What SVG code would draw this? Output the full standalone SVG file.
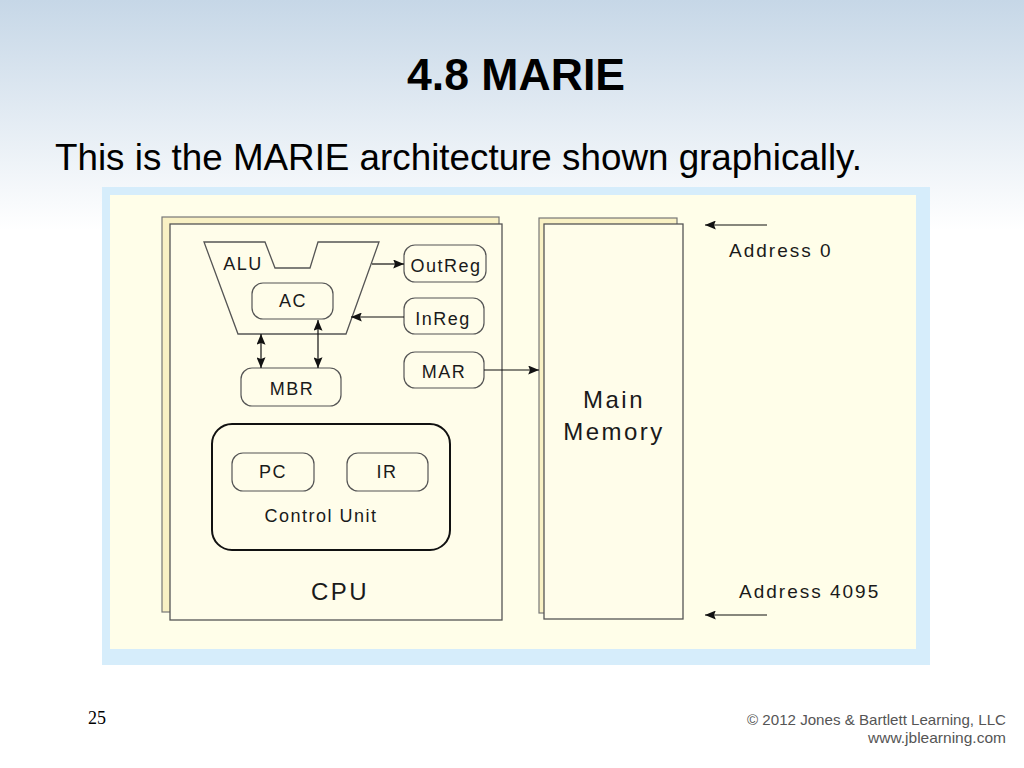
<svg xmlns="http://www.w3.org/2000/svg" width="1024" height="768" viewBox="0 0 1024 768">
<defs>
<linearGradient id="bg" x1="0" y1="0" x2="0" y2="1">
<stop offset="0" stop-color="#c6d7e7"/>
<stop offset="0.3" stop-color="#ffffff"/>
<stop offset="1" stop-color="#ffffff"/>
</linearGradient>
<marker id="ah" viewBox="0 0 12 10" refX="12" refY="5" markerWidth="12" markerHeight="9" markerUnits="userSpaceOnUse" orient="auto-start-reverse">
<path d="M0,0 L12,5 L0,10 L2,5 Z" fill="#111"/>
</marker>
<style>
.lbl{font-family:"Liberation Sans",Arial,sans-serif;font-size:18px;letter-spacing:1.5px;fill:#1a1a1a;text-anchor:middle}
.big{font-family:"Liberation Sans",Arial,sans-serif;font-size:24px;letter-spacing:2.5px;fill:#1a1a1a;text-anchor:middle}
.addr{font-family:"Liberation Sans",Arial,sans-serif;font-size:19px;letter-spacing:2px;fill:#1a1a1a}
.reg{fill:#fffdea;stroke:#555;stroke-width:1.2}
.page{fill:#fffdea;stroke:#555;stroke-width:1.3}
.back{fill:#f9f1c4;stroke:#777;stroke-width:1.2}
.wire{stroke:#111;stroke-width:1.2;fill:none}
.copy{font-family:"Liberation Sans",Arial,sans-serif;font-size:15px;fill:#555;text-anchor:end}
</style>
</defs>
<rect x="0" y="0" width="1024" height="768" fill="url(#bg)"/>
<text x="516" y="90" font-family="Liberation Sans,Arial,sans-serif" font-size="44" font-weight="bold" text-anchor="middle" fill="#000" textLength="218" lengthAdjust="spacingAndGlyphs">4.8 MARIE</text>
<text x="55" y="170" font-family="Liberation Sans,Arial,sans-serif" font-size="36" fill="#000" textLength="807" lengthAdjust="spacingAndGlyphs">This is the MARIE architecture shown graphically.</text>
<rect x="102" y="187" width="828" height="478" fill="#d6edfb"/>
<rect x="110" y="195" width="806" height="454" fill="#fffee9"/>

<g id="cpu">
<rect class="back" x="162" y="217" width="337" height="395"/>
<rect class="page" x="170" y="224" width="332" height="396"/>
<text class="big" x="340" y="600">CPU</text>
</g>
<g id="alu">
<path class="page" d="M204,242 L265,242 L275,268 L310,268 L318,242 L379,242 L346,334 L238,334 Z"/>
<text class="lbl" x="243" y="270">ALU</text>
</g>
<g id="ac">
<rect class="reg" x="252" y="283" width="81" height="36" rx="11"/>
<text class="lbl" x="293" y="307">AC</text>
</g>
<g id="mbr">
<rect class="reg" x="241" y="368" width="100" height="38" rx="11"/>
<text class="lbl" x="292" y="395">MBR</text>
</g>
<g id="outreg">
<rect class="reg" x="404" y="245" width="82" height="37" rx="11"/>
<text class="lbl" x="446" y="272">OutReg</text>
</g>
<g id="inreg">
<rect class="reg" x="404" y="298" width="80" height="36" rx="11"/>
<text class="lbl" x="443" y="325">InReg</text>
</g>
<g id="mar">
<rect class="reg" x="404" y="352" width="80" height="36" rx="11"/>
<text class="lbl" x="444" y="378">MAR</text>
</g>
<g id="control-unit">
<rect x="212" y="424" width="238" height="126" rx="20" fill="#fffdea" stroke="#111" stroke-width="2"/>
<text class="lbl" x="321" y="522" letter-spacing="2.4">Control Unit</text>
</g>
<g id="pc">
<rect class="reg" x="232" y="453" width="82" height="38" rx="11"/>
<text class="lbl" x="273" y="478">PC</text>
</g>
<g id="ir">
<rect class="reg" x="347" y="453" width="81" height="38" rx="11"/>
<text class="lbl" x="387" y="478">IR</text>
</g>
<g id="main-memory">
<rect class="back" x="539" y="218" width="138" height="395"/>
<rect class="page" x="544" y="224" width="139" height="395"/>
<text class="big" x="614" y="408">Main</text>
<text class="big" x="614" y="440">Memory</text>
</g>
<g id="address-labels">
<text class="addr" x="729" y="257">Address 0</text>
<text class="addr" x="739" y="598">Address 4095</text>
</g>

<g id="connectors">
<line class="wire" x1="372" y1="264" x2="404" y2="264" marker-end="url(#ah)"/>
<line class="wire" x1="404" y1="317" x2="351" y2="317" marker-end="url(#ah)"/>
<line class="wire" x1="261" y1="334" x2="261" y2="368" marker-start="url(#ah)" marker-end="url(#ah)"/>
<line class="wire" x1="318" y1="320" x2="318" y2="368" marker-start="url(#ah)" marker-end="url(#ah)"/>
<line class="wire" x1="484" y1="370" x2="539" y2="370" marker-end="url(#ah)"/>
<line class="wire" x1="767" y1="225" x2="705" y2="225" marker-end="url(#ah)"/>
<line class="wire" x1="767" y1="615" x2="705" y2="615" marker-end="url(#ah)"/>
</g>

<text x="88" y="724" font-family="Liberation Serif,Times New Roman,serif" font-size="18" fill="#000">25</text>
<text class="copy" x="1006" y="725" textLength="259" lengthAdjust="spacingAndGlyphs">© 2012 Jones &amp; Bartlett Learning, LLC</text>
<text class="copy" x="1006" y="743" textLength="138" lengthAdjust="spacingAndGlyphs">www.jblearning.com</text>
</svg>
